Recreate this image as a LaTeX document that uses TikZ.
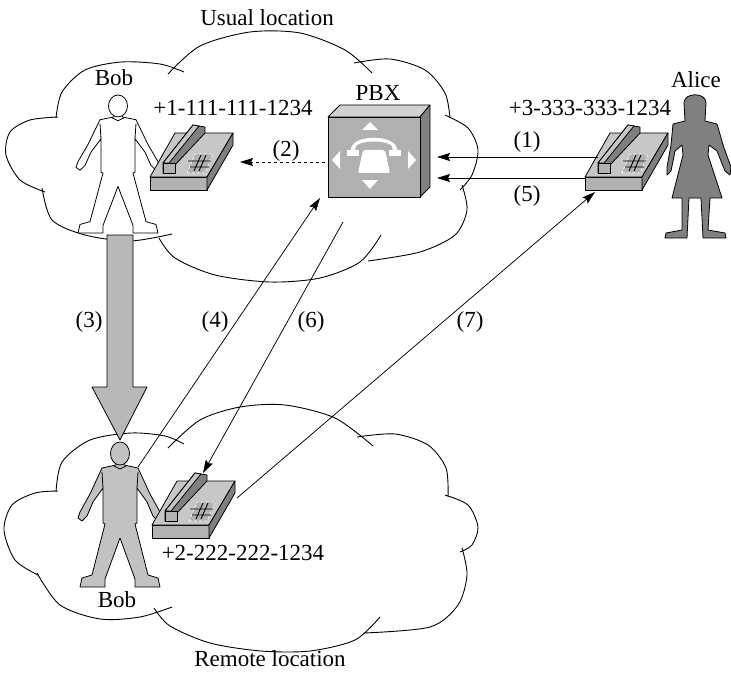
\documentclass[tikz,border=0pt]{standalone}
\usepackage{fontspec}
\setmainfont{Liberation Serif}
\usetikzlibrary{arrows.meta}
\definecolor{lightfill}{gray}{0.78}
\definecolor{midfill}{gray}{0.70}
\definecolor{darkfill}{gray}{0.50}
\definecolor{womanfill}{gray}{0.50}
\definecolor{manfill}{gray}{0.76}
\definecolor{bigarrow}{gray}{0.72}
\begin{document}
\begin{tikzpicture}[x=1pt,y=-1pt,
  font=\fontsize{23}{27}\selectfont,
  lbl/.style={inner sep=0pt},
  cloudline/.style={line width=0.9pt},
  link/.style={line width=0.75pt,-{Stealth[length=13pt,width=8pt,inset=2pt]}},
  outline/.style={line width=0.8pt,line join=round},
  man/.pic={
    \path[outline,draw,pic actions]
      (-4,21) -- (-4,23) -- (-18,26) -- (-30,52) -- (-40,70) -- (-42,76) -- (-38,79)
      -- (-33,74) -- (-27,60) -- (-17,46) -- (-17,81) -- (-15,82) -- (-28,133)
      -- (-38,136) -- (-40,145) -- (-15,145) -- (-15,137) -- (0,96) -- (15,137)
      -- (15,145) -- (40,145) -- (38,136) -- (28,133) -- (15,82) -- (17,81)
      -- (17,46) -- (27,60) -- (33,74) -- (38,79) -- (42,76) -- (40,70) -- (30,52)
      -- (18,26) -- (4,23) -- (4,21) -- cycle;
    \path[outline,draw,pic actions] (0,11.5) ellipse [x radius=9.5, y radius=11.5];
    \draw[outline] (-6,24) -- (0,27) -- (6,24);
    \draw[outline] (-17,46) -- (-18,30) (17,46) -- (18,30);
  },
  woman/.pic={
    \path[outline,draw,pic actions]
      (-10,28) -- (-11,10) .. controls (-11,-1) and (11,-1) .. (11,10) -- (10,28)
      -- (22,31) -- (29,55) -- (36,74) -- (35,82) -- (30,78) -- (22,58) -- (14,52)
      -- (13,62) -- (27,105) -- (15,105) -- (13,137) -- (30,140) -- (31,145)
      -- (8,145) -- (6,105) -- (-6,105) -- (-8,145) -- (-30,145) -- (-29,140)
      -- (-13,137) -- (-13,105) -- (-23,105) -- (-12,62) -- (-13,52) -- (-20,58)
      -- (-24,78) -- (-28,82) -- (-28,74) -- (-24,52) -- (-22,31) -- cycle;
  },
  phone/.pic={
    % base: front, slanted top and right side
    \draw[outline,fill=midfill] (0,0) rectangle (57,-13);
    \draw[outline,fill=lightfill] (0,-13) -- (57,-13) -- (83,-57) -- (25,-57) -- cycle;
    \draw[outline,fill=darkfill] (57,-13) -- (83,-57) -- (83,-45) -- (57,0) -- cycle;
    % keypad
    \draw[white,densely dashed,line width=0.6pt,fill=midfill]
      (37,-17) -- (55,-17) -- (63,-36) -- (45,-36) -- cycle;
    \draw[line width=0.9pt] (44,-19) -- (51,-35) (49,-19) -- (56,-35)
      (40,-23) -- (59,-23) (38,-29) -- (61,-29);
    % handset
    \draw[outline,fill=darkfill] (13,-17) -- (13,-27) -- (43,-65) -- (55,-63)
      -- (55,-57) -- (25,-25) -- (25,-17) -- cycle;
    \draw[outline,fill=lightfill] (13,-27) -- (43,-65) -- (49,-64) -- (19,-27) -- cycle;
    \draw[outline,fill=midfill] (13,-27) rectangle (25,-17);
  }
]
\useasboundingbox (0,0) rectangle (731,674);

% ---------- clouds ----------
\begin{scope}[cloudline]
  % usual location
  \draw plot[smooth] coordinates {(56,118) (62,92) (85,70) (121,62) (160,64) (184,72)};
  \draw plot[smooth] coordinates {(168,74) (200,46) (250,32) (300,33) (345,50) (372,73)};
  \draw plot[smooth] coordinates {(354,63) (390,59) (425,70) (445,93) (450,118)};
  \draw plot[smooth] coordinates {(445,115) (468,128) (478,150) (472,175) (460,190)};
  \draw plot[smooth] coordinates {(462,185) (467,210) (455,235) (420,252) (368,261)};
  \draw plot[smooth] coordinates {(381,235) (360,262) (320,278) (270,282) (215,275) (175,258) (159,238)};
  \draw plot[smooth] coordinates {(172,234) (130,241) (85,235) (52,220) (42,188)};
  \draw plot[smooth] coordinates {(45,192) (20,180) (6,155) (10,132) (30,120) (58,117)};
  % remote location
  \draw plot[smooth] coordinates {(56,492) (62,462) (90,440) (131,433) (165,436) (184,444)};
  \draw plot[smooth] coordinates {(168,448) (200,420) (240,407) (285,405) (335,418) (373,446)};
  \draw plot[smooth] coordinates {(357,437) (395,434) (428,445) (446,468) (448,497)};
  \draw plot[smooth] coordinates {(445,495) (468,505) (478,527) (472,545) (460,552)};
  \draw plot[smooth] coordinates {(462,548) (467,575) (458,605) (430,627) (364,633)};
  \draw plot[smooth] coordinates {(380,617) (355,640) (310,651) (261,651) (210,643) (170,626) (154,608)};
  \draw plot[smooth] coordinates {(172,607) (140,617) (100,619) (60,605) (37,573)};
  \draw plot[smooth] coordinates {(38,575) (15,560) (4,530) (12,505) (35,493) (58,491)};
\end{scope}

% ---------- people ----------
\pic[fill=white,yscale=0.952] (bobtop) at (118,95) {man};
\pic[fill=manfill] (bobremote) at (120,442) {man};
\pic[fill=womanfill] (alice) at (695,93) {woman};

% ---------- telephones ----------
\pic (phoneone) at (150,190) {phone};
\pic (phonetwo) at (152,538) {phone};
\pic (phonethree) at (585,190) {phone};

% ---------- PBX ----------
\draw[outline,fill=gray!35] (328,117) -- (340,105) -- (430,105) -- (420,117) -- cycle;
\draw[outline,fill=darkfill] (420,117) -- (430,105) -- (430,187) -- (420,197) -- cycle;
\node[draw,outline,fill=gray!62,minimum width=92pt,minimum height=80pt,inner sep=0pt]
  (pbx) at (374,157) {};
\begin{scope}[white]
  \fill (370,122) -- (378,130) -- (362,130) -- cycle;
  \fill (362,180) -- (378,180) -- (370,189) -- cycle;
  \fill (332,160) -- (340,151) -- (340,169) -- cycle;
  \fill (416,160) -- (408,151) -- (408,169) -- cycle;
  % handset over the set
  \draw[line width=4.5pt,line cap=round] (353,152) .. controls (350,136) and (398,136) .. (395,152);
  \draw[gray!62,line width=1.4pt] (356,149) .. controls (355,140) and (393,140) .. (392,149);
  \fill (347,150) rectangle (359,156);
  \fill (389,150) rectangle (401,156);
  % body of the set
  \fill[rounded corners=2pt] (358,173) -- (390,173) -- (385,150) -- (363,150) -- cycle;
\end{scope}

% ---------- text ----------
\node[lbl] (usual) at (267,18) {Usual location};
\node[lbl] (boblabel) at (114,78) {Bob};
\node[lbl] (pbxlabel) at (378,93) {PBX};
\node[lbl] (numone) at (233,108) {+1-111-111-1234};
\node[lbl] (numthree) at (590,108) {+3-333-333-1234};
\node[lbl] (alicelabel) at (696,80) {Alice};
\node[lbl] (numtwo) at (243,553) {+2-222-222-1234};
\node[lbl] (boblabeltwo) at (117,600) {Bob};
\node[lbl] (remote) at (270,659) {Remote location};

\node[lbl] (stepone) at (527,142) {(1)};
\node[lbl] (steptwo) at (286,151) {(2)};
\node[lbl] (stepthree) at (89,322) {(3)};
\node[lbl] (stepfour) at (215,322) {(4)};
\node[lbl] (stepfive) at (527,196) {(5)};
\node[lbl] (stepsix) at (311,322) {(6)};
\node[lbl] (stepseven) at (470,322) {(7)};

% ---------- movement of Bob ----------
\draw[outline,fill=bigarrow] (107,235) -- (133,235) -- (133,387) -- (147,387)
  -- (120,440) -- (92,387) -- (107,387) -- cycle;

% ---------- signalling ----------
\coordinate (alicephoneA) at (598,157);
\coordinate (alicephoneB) at (585,178);
\coordinate (alicephoneC) at (595,192);
\coordinate (pbxinA) at (437,157);
\coordinate (pbxinB) at (437,178);
\coordinate (pbxleft) at (325,162);
\coordinate (pbxcorner) at (320,198);
\coordinate (pbxbottom) at (343,222);
\coordinate (bobphone) at (240,162);
\coordinate (bobshoulder) at (138,467);
\coordinate (remotehandset) at (203,473);
\coordinate (remotephone) at (237,498);

\draw[link] (alicephoneA) -- (pbxinA);
\draw[link] (alicephoneB) -- (pbxinB);
\draw[link,dashed] (pbxleft) -- (bobphone);
\draw[link] (bobshoulder) -- (pbxcorner);
\draw[link] (pbxbottom) -- (remotehandset);
\draw[link] (remotephone) -- (alicephoneC);
\end{tikzpicture}
\end{document}
